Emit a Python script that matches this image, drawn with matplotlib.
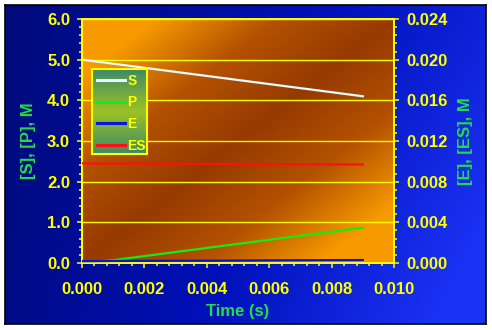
import numpy as np
import matplotlib
matplotlib.use("Agg")
import matplotlib.pyplot as plt
from matplotlib.colors import LinearSegmentedColormap
from matplotlib.ticker import MultipleLocator

# values
time_s = [0.000, 0.001, 0.002, 0.003, 0.004, 0.005, 0.006, 0.007, 0.008, 0.009]
conc_s = [5.00, 4.90, 4.80, 4.70, 4.60, 4.50, 4.40, 4.30, 4.20, 4.10]
conc_p = [0.00, 0.07, 0.17, 0.27, 0.37, 0.47, 0.57, 0.67, 0.77, 0.87]
conc_e = [0.00018, 0.00020, 0.00021, 0.00022, 0.00023, 0.00024, 0.00026, 0.00027, 0.00028, 0.00029]
conc_es = [0.00980, 0.00978, 0.00977, 0.00976, 0.00975, 0.00974, 0.00973, 0.00971, 0.00970, 0.00969]

YELLOW = "#ffff00"
GREEN = "#22dd44"
W, H = 492, 330

plt.rcParams["font.family"] = ["Liberation Sans", "DejaVu Sans"]
plt.rcParams["font.weight"] = "bold"

fig = plt.figure(figsize=(W / 100, H / 100), dpi=100)
fig.patch.set_facecolor("white")


def frac(x0, y0, x1, y1):
    # pixel box (top-left origin) -> figure fraction rect
    return [x0 / W, 1 - y1 / H, (x1 - x0) / W, (y1 - y0) / H]


# blue panel behind everything
bg = fig.add_axes(frac(5, 5, 486, 324), zorder=0)
cc, rr = np.meshgrid(np.linspace(0, 1, 200), np.linspace(0, 1, 140))
blue = LinearSegmentedColormap.from_list("blue", ["#000a7a", "#0010b8", "#1a32f4"])
bg.imshow(blue(0.75 * cc + 0.25 * rr * cc + 0.1 * rr), aspect="auto", extent=[0, 1, 0, 1])
bg.set_xticks([])
bg.set_yticks([])
for sp in bg.spines.values():
    sp.set_color("black")
    sp.set_linewidth(1.2)

ax = fig.add_axes(frac(82, 19, 394, 263), zorder=1)
ax.patch.set_alpha(0)
orange = LinearSegmentedColormap.from_list("orange", ["#963a00", "#b45200", "#f79a00"])
cc, rr = np.meshgrid(np.linspace(0, 1, 200), np.linspace(0, 1, 160))
shade = np.clip(np.abs(cc + rr - 1.0) * 1.3, 0, 1)
ax.imshow(orange(shade), aspect="auto",
          extent=[0, 1, 0, 1], transform=ax.transAxes, zorder=0)

ax2 = ax.twinx()
ax2.patch.set_alpha(0)

l_s, = ax.plot(time_s, conc_s, color="#e4fbff", lw=1.6, zorder=3)
l_p, = ax.plot(time_s, conc_p, color="#11ee11", lw=1.6, zorder=3)
l_e, = ax2.plot(time_s, conc_e, color="#0a14d8", lw=1.6, zorder=3)
l_es, = ax2.plot(time_s, conc_es, color="#ff1010", lw=1.6, zorder=3)

ax.set_xlim(0, 0.010)
ax.set_ylim(0, 6.0)
ax2.set_ylim(0, 0.024)

ax.xaxis.set_major_locator(MultipleLocator(0.002))
ax.xaxis.set_minor_locator(MultipleLocator(0.0004))
ax.yaxis.set_major_locator(MultipleLocator(1.0))
ax.yaxis.set_minor_locator(MultipleLocator(0.2))
ax2.yaxis.set_major_locator(MultipleLocator(0.004))
ax2.yaxis.set_minor_locator(MultipleLocator(0.0008))

ax.xaxis.set_major_formatter(lambda v, p: f"{v:.3f}")
ax.yaxis.set_major_formatter(lambda v, p: f"{v:.1f}")
ax2.yaxis.set_major_formatter(lambda v, p: f"{v:.3f}")

ax.grid(axis="y", which="major", color=YELLOW, lw=1.0, zorder=1)
ax.set_axisbelow(False)

for a in (ax, ax2):
    for sp in a.spines.values():
        sp.set_color(YELLOW)
        sp.set_linewidth(1.3)
    a.tick_params(which="major", length=3.6, width=1.1, color=YELLOW, labelcolor=YELLOW,
                  labelsize=12)
    a.tick_params(which="minor", length=2.3, width=1.1, color=YELLOW)
ax.tick_params(axis="x", pad=10)
ax.tick_params(axis="y", pad=5)
ax2.tick_params(axis="y", pad=5)

ax.set_xlabel("Time (s)", color=GREEN, fontsize=12, fontweight="bold", labelpad=5)
ax.set_ylabel("[S], [P], M", color=GREEN, fontsize=12, fontweight="bold", labelpad=8)
ax2.set_ylabel("[E], [ES], M", color=GREEN, fontsize=12, fontweight="bold",
               rotation=90, labelpad=8)

# legend box with green gradient fill
lg = fig.add_axes(frac(92, 69, 147, 154), zorder=5)
gcol = LinearSegmentedColormap.from_list("leg", ["#3d8a6a", "#9cc224", "#3d8a6a"])
lg.imshow(gcol(np.linspace(0, 1, 100))[:, None, :], aspect="auto", extent=[0, 1, 0, 1])
lg.set_xticks([])
lg.set_yticks([])
for sp in lg.spines.values():
    sp.set_color(YELLOW)
    sp.set_linewidth(1.5)
leg = lg.legend([l_s, l_p, l_e, l_es], ["S", "P", "E", "ES"], loc="center left",
                bbox_to_anchor=(0.0, 0.48), frameon=False, fontsize=10,
                handlelength=2.0, handletextpad=0.2, labelspacing=0.55,
                borderaxespad=0.0, borderpad=0.34)
for t in leg.get_texts():
    t.set_color(YELLOW)
for h in leg.legend_handles:
    h.set_linewidth(2.2)

fig.savefig("out.png", dpi=100)
